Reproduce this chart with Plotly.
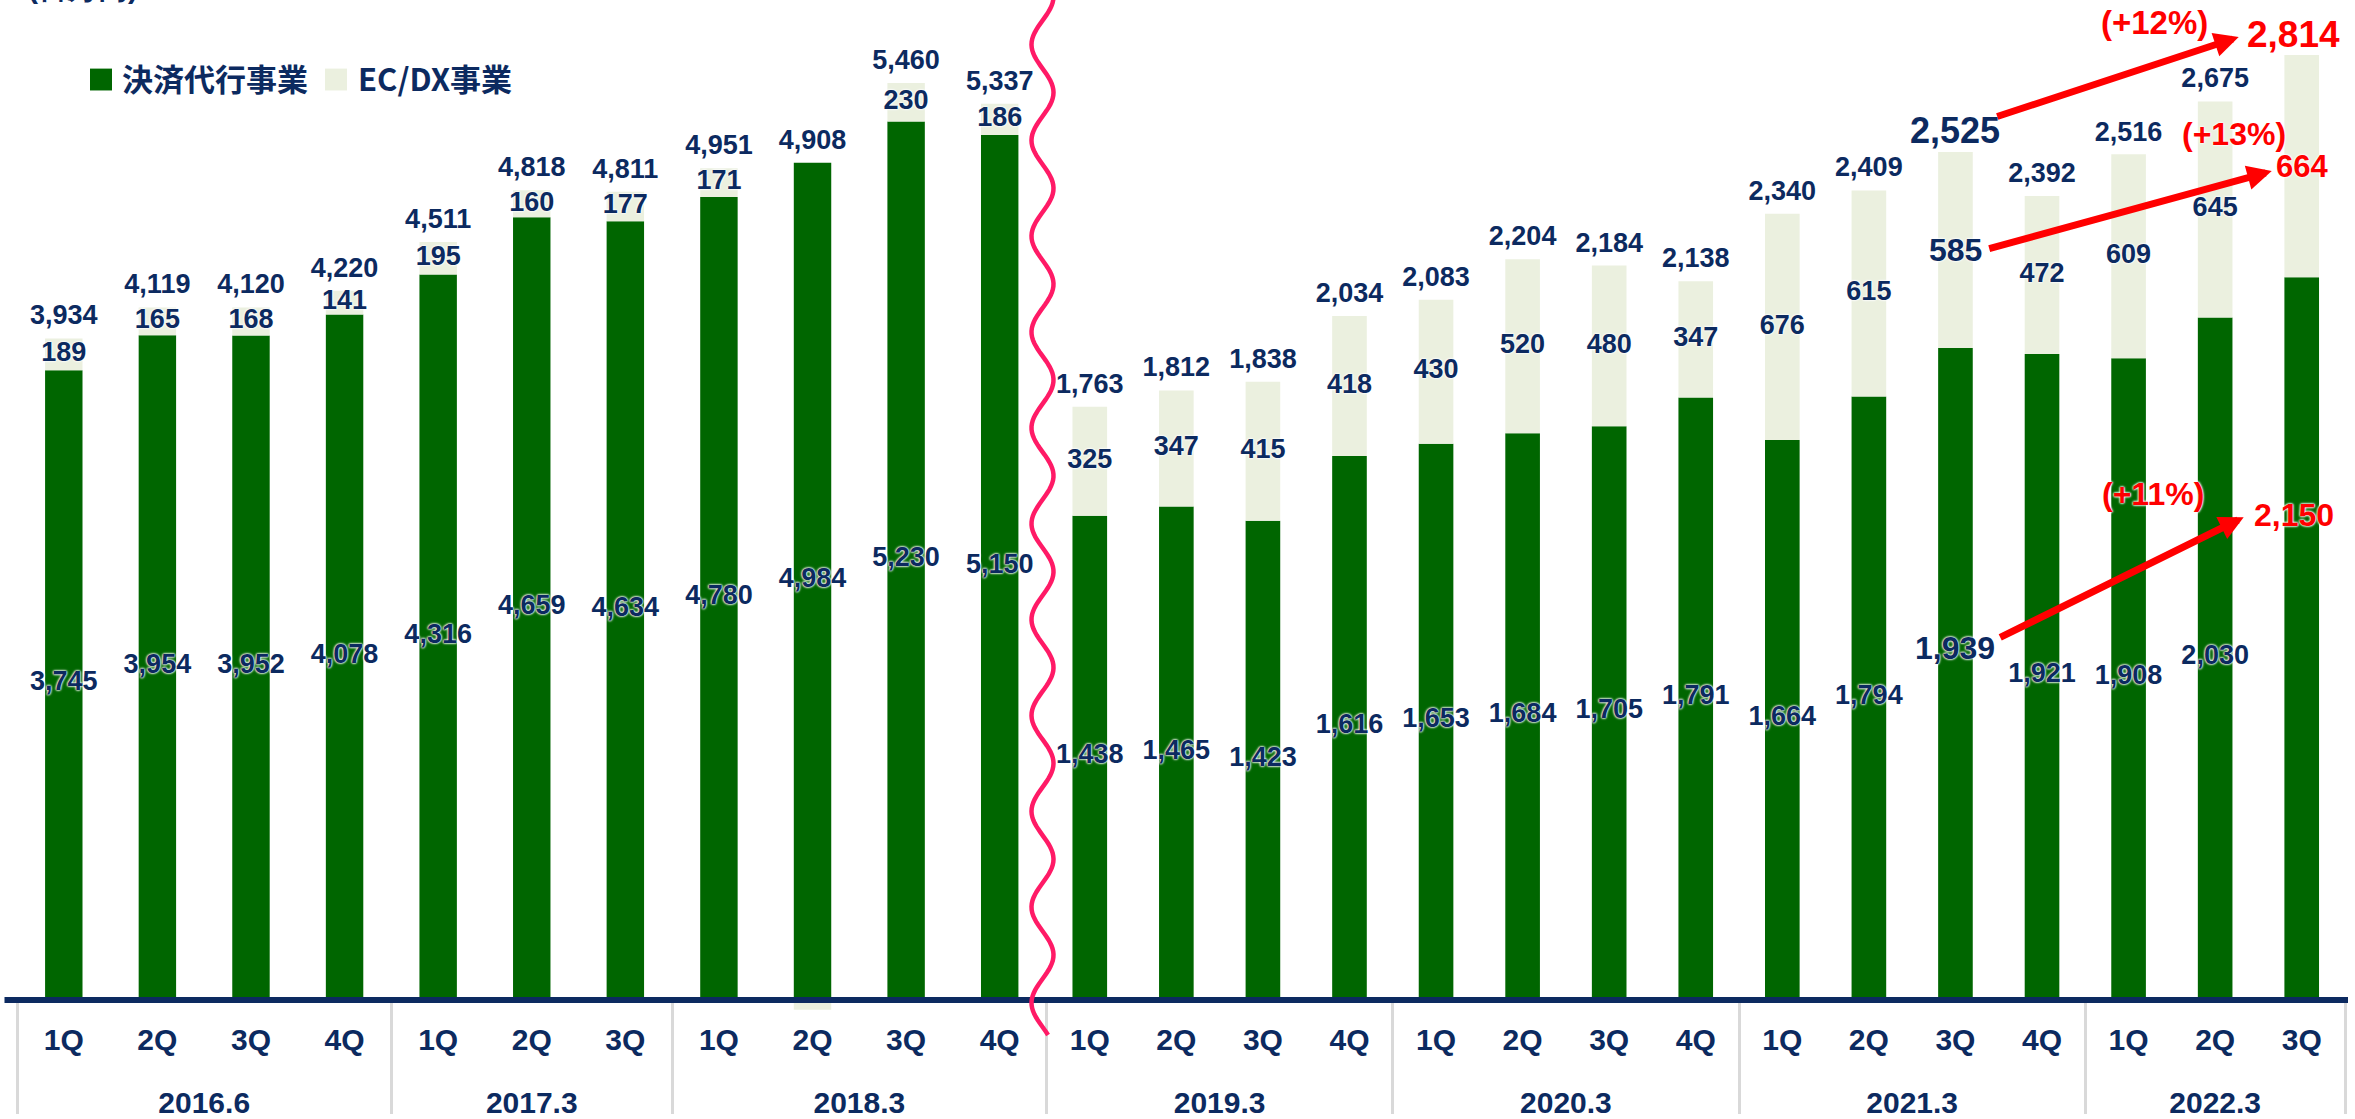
import math
import plotly.graph_objects as go

# ---------------- data ----------------
# earlier fiscal years (drawn at half scale, left of the break)
FY_LEFT = ["2016.6"] * 4 + ["2017.3"] * 3 + ["2018.3"] * 4
Q_LEFT = ["1Q", "2Q", "3Q", "4Q", "1Q", "2Q", "3Q", "1Q", "2Q", "3Q", "4Q"]
PAYMENT_LEFT = [3745, 3954, 3952, 4078, 4316, 4659, 4634, 4780, 4984, 5230, 5150]
ECDX_LEFT = [189, 165, 168, 141, 195, 160, 177, 171, -76, 230, 186]
TOTAL_LEFT = [3934, 4119, 4120, 4220, 4511, 4818, 4811, 4951, 4908, 5460, 5337]

# recent fiscal years (right of the break)
FY_RIGHT = ["2019.3"] * 4 + ["2020.3"] * 4 + ["2021.3"] * 4 + ["2022.3"] * 3
Q_RIGHT = ["1Q", "2Q", "3Q", "4Q", "1Q", "2Q", "3Q", "4Q",
           "1Q", "2Q", "3Q", "4Q", "1Q", "2Q", "3Q"]
PAYMENT_RIGHT = [1438, 1465, 1423, 1616, 1653, 1684, 1705, 1791,
                 1664, 1794, 1939, 1921, 1908, 2030, 2150]
ECDX_RIGHT = [325, 347, 415, 418, 430, 520, 480, 347,
              676, 615, 585, 472, 609, 645, 664]
TOTAL_RIGHT = [1763, 1812, 1838, 2034, 2083, 2204, 2184, 2138,
               2340, 2409, 2525, 2392, 2516, 2675, 2814]

SERIES = ["決済代行事業", "EC/DX事業"]
UNIT = "(百万円)"
COMPARE_FROM = ("2021.3", "3Q")
GROWTH = ["(+12%)", "(+13%)", "(+11%)"]   # total, EC/DX, payment

# ---------------- style ----------------
W, H = 2355, 1119
PLOT_BOTTOM = 1025          # px, bottom edge of the plotting area
BASE_PX = 1003              # px where value 0 sits
LINE_PX = 1006              # px centre of the baseline rule
PX_PER_UNIT_L = 0.1684
PX_PER_UNIT_R = 0.3368

GREEN = "#006600"
BEIGE = "#ebf0df"
NAVY = "#0c2a60"
RED = "#ff0000"
WAVE = "#ff1a66"
DIVIDER = "#d9d9d9"
FONT = "Liberation Sans, Arial, sans-serif"
CJK = "Noto Sans CJK JP, sans-serif"
HALO = "0px 0px 2px #ffffff, 0px 0px 2px #ffffff, 0px 0px 3px #ffffff"


def paper_x(p):
    return p / W


def paper_y(p):
    return (PLOT_BOTTOM - p) / PLOT_BOTTOM


def y_range(s):
    return [-(PLOT_BOTTOM - BASE_PX) / s, BASE_PX / s]


def label_rows(payment, ecdx, total, s):
    pay_y = [p / 2 for p in payment]
    ec_y = [p + e / 2 for p, e in zip(payment, ecdx)]
    tot_y = []
    for p, e, t in zip(payment, ecdx, total):
        px = max(t, p) * s + 21
        if e > 0:
            px = max(px, (p + e / 2) * s + 28)
        tot_y.append(px / s)
    return pay_y, ec_y, tot_y


def groups(fy):
    out, start = [], 0
    for i in range(1, len(fy) + 1):
        if i == len(fy) or fy[i] != fy[start]:
            out.append((fy[start], start, i - 1))
            start = i
    return out


def fmt(v):
    return f"{v:,}"


fig = go.Figure()


def add_block(fy, q, payment, ecdx, total, s, xa, ya, skip=()):
    cats = [fy, q]
    fig.add_trace(go.Bar(x=cats, y=payment, name=SERIES[0], marker_color=GREEN,
                         marker_line_width=0, xaxis=xa, yaxis=ya,
                         showlegend=False, hoverinfo="skip"))
    fig.add_trace(go.Bar(x=cats, y=ecdx, name=SERIES[1], marker_color=BEIGE,
                         marker_line_width=0, xaxis=xa, yaxis=ya,
                         showlegend=False, hoverinfo="skip"))
    pay_y, ec_y, tot_y = label_rows(payment, ecdx, total, s)
    rows = [
        (pay_y, [fmt(v) for v in payment]),
        (ec_y, [fmt(v) if v > 0 else "" for v in ecdx]),
        (tot_y, [fmt(v) for v in total]),
    ]
    for ys, texts in rows:
        texts = ["" if i in skip else t for i, t in enumerate(texts)]
        fig.add_trace(go.Scatter(
            x=cats, y=ys, text=texts, mode="text", textposition="middle center",
            textfont=dict(family=FONT, size=27, color=NAVY, weight="bold", shadow=HALO),
            xaxis=xa, yaxis=ya, showlegend=False, hoverinfo="skip", cliponaxis=False))
    return pay_y, ec_y, tot_y


n_l, n_r = len(Q_LEFT), len(Q_RIGHT)
i_from = [i for i in range(n_r) if (FY_RIGHT[i], Q_RIGHT[i]) == COMPARE_FROM][0]
i_last = n_r - 1

add_block(FY_LEFT, Q_LEFT, PAYMENT_LEFT, ECDX_LEFT, TOTAL_LEFT, PX_PER_UNIT_L, "x", "y")
pay_r, ec_r, tot_r = add_block(FY_RIGHT, Q_RIGHT, PAYMENT_RIGHT, ECDX_RIGHT, TOTAL_RIGHT,
                               PX_PER_UNIT_R, "x2", "y2", skip=(i_from, i_last))

# placeholder traces so the label axes get their own subplots
for xa, ya, n in (("x3", "y", n_l), ("x5", "y", n_l), ("x4", "y2", n_r), ("x6", "y2", n_r)):
    fig.add_trace(go.Scatter(x=[0], y=[None], mode="markers", xaxis=xa, yaxis=ya,
                             showlegend=False, hoverinfo="skip"))

TICKFONT = dict(family=FONT, size=30, color=NAVY, weight="bold")
LINE_POS = paper_y(LINE_PX)


def quarter_axis(over, q, fy):
    n = len(q)
    g = groups(fy)
    bounds = [s - 0.5 for _, s, _ in g] + [g[-1][2] + 0.5]
    return dict(overlaying=over, anchor="free", position=LINE_POS, type="linear",
                range=[-0.5, n - 0.5], autorange=False, tickmode="array",
                tickvals=list(range(n)), ticktext=q, ticks="", showline=False,
                showgrid=False, zeroline=False, tickfont=TICKFONT, ticklabelstandoff=19,
                minor=dict(tickmode="array", tickvals=bounds, ticks="outside", ticklen=113,
                           tickwidth=2.5, tickcolor=DIVIDER, showgrid=False))


def year_axis(over, fy):
    n = len(fy)
    g = groups(fy)
    return dict(overlaying=over, anchor="free", position=LINE_POS, type="linear",
                range=[-0.5, n - 0.5], autorange=False, tickmode="array",
                tickvals=[(s + e) / 2 for _, s, e in g], ticktext=[name for name, _, _ in g],
                ticks="", showline=False, showgrid=False, zeroline=False,
                tickfont=TICKFONT, ticklabelstandoff=82)


X_SPLIT = 1046.5
fig.update_layout(
    width=W, height=H,
    margin=dict(l=0, r=0, t=0, b=H - PLOT_BOTTOM, pad=0),
    paper_bgcolor="white", plot_bgcolor="white",
    barmode="relative", bargap=0.6,
    showlegend=False,
    xaxis=dict(type="multicategory", domain=[paper_x(17), paper_x(X_SPLIT)],
               anchor="y", range=[-0.5, n_l - 0.5], visible=False),
    yaxis=dict(domain=[0, 1], anchor="x", range=y_range(PX_PER_UNIT_L), visible=False),
    xaxis2=dict(type="multicategory", domain=[paper_x(X_SPLIT), paper_x(2345)],
                anchor="y2", range=[-0.5, n_r - 0.5], visible=False),
    yaxis2=dict(domain=[0, 1], anchor="x2", range=y_range(PX_PER_UNIT_R), visible=False),
    xaxis3=quarter_axis("x", Q_LEFT, FY_LEFT),
    xaxis4=quarter_axis("x2", Q_RIGHT, FY_RIGHT),
    xaxis5=year_axis("x", FY_LEFT),
    xaxis6=year_axis("x2", FY_RIGHT),
)

# baseline rule across both blocks
shapes = [dict(type="line", xref="paper", yref="paper",
               x0=paper_x(4.5), x1=paper_x(2348), y0=LINE_POS, y1=LINE_POS,
               line=dict(color=NAVY, width=6), layer="above")]

# wavy break marker between the two scales
pts = []
y = -12.0
while y <= 1043:
    x = 1042.5 + 11 * math.cos(2 * math.pi * (y + 3.4) / 96.4)
    pts.append(f"{paper_x(x):.5f},{paper_y(y):.5f}")
    y += 3
shapes.append(dict(type="path", xref="paper", yref="paper",
                   path="M" + " L".join(pts),
                   line=dict(color=WAVE, width=4.5), layer="above"))

# legend swatches
for x0, col in ((90, GREEN), (325, BEIGE)):
    shapes.append(dict(type="rect", xref="paper", yref="paper",
                       x0=paper_x(x0), x1=paper_x(x0 + 22), y0=paper_y(91), y1=paper_y(69),
                       fillcolor=col, line=dict(width=0), layer="above"))

annotations = []
for x0, name in ((120, SERIES[0]), (356, SERIES[1])):
    annotations.append(dict(x=paper_x(x0), y=paper_y(78), xref="paper", yref="paper",
                            text=name, showarrow=False, xanchor="left", yanchor="middle",
                            font=dict(family=CJK, size=31, color=NAVY, weight="bold")))

# unit note sits mostly above the top edge
annotations.append(dict(x=paper_x(26), y=paper_y(6), xref="paper", yref="paper",
                        text=UNIT, showarrow=False, xanchor="left", yanchor="bottom",
                        font=dict(family=FONT, size=30, color=NAVY, weight="bold")))


def callout(text, idx, yv, size, color, xshift=0, yshift=0):
    return dict(x=idx, y=yv, xref="x4", yref="y2", text=text, showarrow=False,
                xanchor="center", yanchor="middle", xshift=xshift, yshift=yshift,
                font=dict(family=FONT, size=size, color=color, weight="bold", shadow=HALO))


# comparison quarter, navy
annotations += [
    callout(fmt(TOTAL_RIGHT[i_from]), i_from, tot_r[i_from], 36, NAVY),
    callout(fmt(ECDX_RIGHT[i_from]), i_from, ec_r[i_from], 32, NAVY),
    callout(fmt(PAYMENT_RIGHT[i_from]), i_from, pay_r[i_from], 32, NAVY, yshift=25),
]
# latest quarter, red
annotations += [
    callout(fmt(TOTAL_RIGHT[i_last]), i_last, tot_r[i_last], 37, RED, xshift=-8),
    callout(fmt(ECDX_RIGHT[i_last]), i_last, ec_r[i_last], 31, RED),
    callout(fmt(PAYMENT_RIGHT[i_last]), i_last, pay_r[i_last], 32, RED, xshift=-8, yshift=122),
]
# growth rates
annotations += [
    callout(GROWTH[0], i_last, tot_r[i_last], 33, RED, xshift=-147, yshift=12),
    callout(GROWTH[1], i_last, ec_r[i_last], 32, RED, xshift=-68, yshift=32),
    callout(GROWTH[2], i_last, pay_r[i_last], 32, RED, xshift=-149, yshift=143),
]


def arrow(yv, xshift, yshift, ax, ay):
    return dict(x=i_last, y=yv, xref="x4", yref="y2", text="", showarrow=True,
                xshift=xshift, yshift=yshift, ax=ax, ay=ay, axref="pixel", ayref="pixel",
                arrowhead=2, arrowsize=0.7, arrowwidth=7, arrowcolor=RED,
                standoff=0, startstandoff=0)


annotations += [
    arrow(tot_r[i_last], -63, -3, -243, 80),
    arrow(ec_r[i_last], -30, -5, -284, 78),
    arrow(pay_r[i_last], -58, 120, -245, 121),
]

fig.update_layout(shapes=shapes, annotations=annotations)
fig.write_html("out.html")
